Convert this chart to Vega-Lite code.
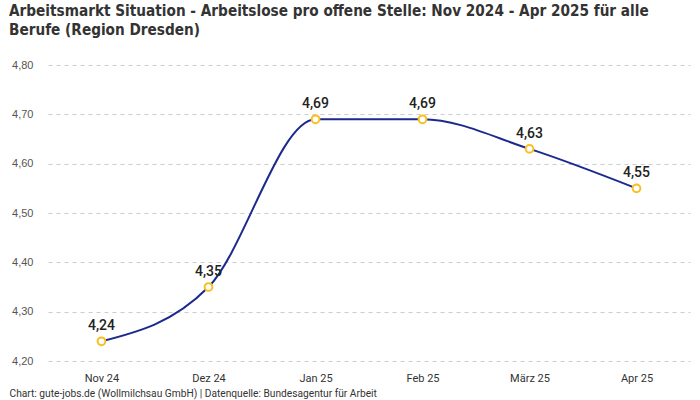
{
  "$schema": "https://vega.github.io/schema/vega-lite/v6.json",
  "autosize": {"type": "none"},
  "width": 642,
  "height": 296,
  "padding": {"left": 48, "top": 65, "right": 10, "bottom": 39},
  "background": "white",
  "config": {
    "view": {"stroke": null},
    "locale": {"number": {"decimal": ",", "thousands": ".", "grouping": [3], "currency": ["", " €"]}}
  },
  "title": {
    "text": ["Arbeitsmarkt Situation - Arbeitslose pro offene Stelle: Nov 2024 - Apr 2025 für alle", "Berufe (Region Dresden)"],
    "anchor": "start",
    "frame": "group",
    "dx": -39,
    "offset": 21,
    "font": "DejaVu Sans Condensed, Roboto Condensed, Roboto",
    "fontSize": 15.2,
    "fontWeight": "bold",
    "lineHeight": 19,
    "color": "#333333"
  },
  "data": {
    "values": [
      {"monat": "Nov 24", "wert": 4.24},
      {"monat": "Dez 24", "wert": 4.35},
      {"monat": "Jan 25", "wert": 4.69},
      {"monat": "Feb 25", "wert": 4.69},
      {"monat": "März 25", "wert": 4.63},
      {"monat": "Apr 25", "wert": 4.55}
    ]
  },
  "encoding": {
    "x": {
      "field": "monat",
      "type": "nominal",
      "sort": null,
      "scale": {"type": "point", "padding": 0.5},
      "axis": {
        "title": "Chart: gute-jobs.de (Wollmilchsau GmbH) | Datenquelle: Bundesagentur für Arbeit",
        "titleAnchor": "start",
        "titleAlign": "left",
        "titleBaseline": "top",
        "titleX": -39,
        "titleY": 27,
        "titleFont": "Roboto",
        "titleFontSize": 10.2,
        "titleFontWeight": "normal",
        "titleColor": "#333333",
        "labelAngle": 0,
        "labelFont": "Roboto",
        "labelFontSize": 11,
        "labelColor": "#333333",
        "labelPadding": 11,
        "domain": false,
        "ticks": false,
        "grid": false
      }
    },
    "y": {
      "field": "wert",
      "type": "quantitative",
      "scale": {"domain": [4.2, 4.8], "zero": false, "nice": false},
      "axis": {
        "title": null,
        "values": [4.2, 4.3, 4.4, 4.5, 4.6, 4.7, 4.8],
        "format": ".2f",
        "labelFont": "Liberation Sans",
        "labelFontSize": 11,
        "labelColor": "#555555",
        "labelPadding": 15,
        "domain": false,
        "ticks": false,
        "grid": true,
        "gridColor": "#cccccc",
        "gridDash": [4, 4],
        "gridWidth": 1
      }
    }
  },
  "layer": [
    {
      "mark": {"type": "line", "interpolate": "monotone", "color": "#1b2a8c", "strokeWidth": 2}
    },
    {
      "mark": {"type": "point", "shape": "circle", "filled": true, "fill": "white", "stroke": "#f9bf1e", "strokeWidth": 2, "size": 60, "opacity": 1}
    },
    {
      "mark": {"type": "text", "dy": -15, "font": "Roboto", "fontSize": 14, "fontWeight": 500, "color": "#222222"},
      "encoding": {"text": {"field": "wert", "type": "quantitative", "format": ".2f"}}
    }
  ]
}
